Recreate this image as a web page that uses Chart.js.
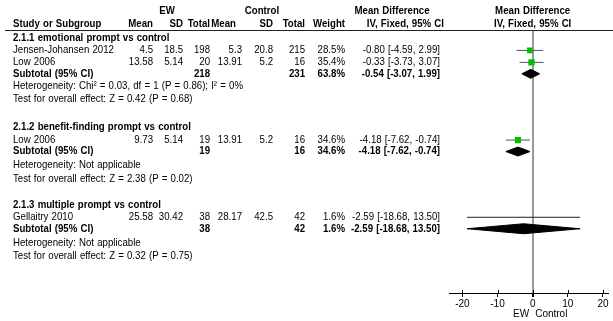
<!DOCTYPE html>
<html>
<head>
<meta charset="utf-8">
<script src="https://cdn.jsdelivr.net/npm/chart.js@4/dist/chart.umd.min.js"></script>
<style>
  html, body { margin: 0; padding: 0; background: #fff; }
  #wrap { width: 613px; height: 321px; position: relative; }
</style>
</head>
<body>
<div id="wrap"><canvas id="forest" width="613" height="321"></canvas></div>
<script>
// ---- Study-level data ----
const studyNames  = ['Jensen-Johansen 2012', 'Low 2006', 'Low 2006', 'Gellaitry 2010'];
const studyGroup  = [0, 0, 1, 2];
const ewMean      = [4.5, 13.58, 9.73, 25.58];
const ewSD        = [18.5, 5.14, 5.14, 30.42];
const ewTotal     = [198, 20, 19, 38];
const ctlMean     = [5.3, 13.91, 13.91, 28.17];
const ctlSD       = [20.8, 5.2, 5.2, 42.5];
const ctlTotal    = [215, 16, 16, 42];
const studyWeight = [28.5, 35.4, 34.6, 1.6];
const studyMD     = [-0.80, -0.33, -4.18, -2.59];
const studyLo     = [-4.59, -3.73, -7.62, -18.68];
const studyHi     = [2.99, 3.07, -0.74, 13.50];

// ---- Subgroup-level data ----
const groupTitles   = ['2.1.1 emotional prompt vs control',
                       '2.1.2 benefit-finding prompt vs control',
                       '2.1.3 multiple prompt vs control'];
const groupEwTotal  = [218, 19, 38];
const groupCtlTotal = [231, 16, 42];
const groupWeight   = [63.8, 34.6, 1.6];
const groupMD       = [-0.54, -4.18, -2.59];
const groupLo       = [-3.07, -7.62, -18.68];
const groupHi       = [1.99, -0.74, 13.50];
const groupHetero   = ['Heterogeneity: Chi\u00B2 = 0.03, df = 1 (P = 0.86); I\u00B2 = 0%',
                       'Heterogeneity: Not applicable',
                       'Heterogeneity: Not applicable'];
const groupEffect   = ['Test for overall effect: Z = 0.42 (P = 0.68)',
                       'Test for overall effect: Z = 2.38 (P = 0.02)',
                       'Test for overall effect: Z = 0.32 (P = 0.75)'];

// ---- Axis ----
const axisTicks  = [-20, -10, 0, 10, 20];
const axisLabels = ['EW', 'Control'];

// ---- Row layout (vertical scale runs in pixel units, top to bottom) ----
const rowHeader1  = 11.5;
const rowHeader2  = 24.5;
const rowRule     = 30;
const rowAxis     = 294;
const rowGroup    = [38.5, 127, 206];
const rowStudy    = [50.5, 62.5, 140.5, 218];
const rowSubtotal = [74, 152, 229.5];
const rowHetero   = [86.5, 166, 243.5];
const rowEffect   = [99, 180, 257];

// ---- Column layout ----
const colName = 13;
const colEwMean = 153, colEwSD = 183, colEwTotal = 210;
const colCtlMean = 242, colCtlSD = 273, colCtlTotal = 305;
const colWeight = 345, colCI = 440;

const FONT = '"Liberation Sans", Arial, sans-serif';
const TEXT_SIZE = 10.5;
const TEXT_SQUEEZE = 0.92;
const fmt2 = v => v.toFixed(2);
const ciText = (m, l, h) => `${fmt2(m)} [${fmt2(l)}, ${fmt2(h)}]`;
const squareRadius = w => Math.max(Math.sqrt(w) * 1.05 / Math.SQRT2, 0.8);

const datasets = [];

// study point estimates (green squares, sized by weight)
datasets.push({
  label: 'estimates',
  order: 0,
  data: studyMD.map((m, i) => ({ x: m, y: rowStudy[i] })),
  pointStyle: 'rect',
  pointRadius: studyWeight.map(squareRadius),
  backgroundColor: '#00c000',
  borderWidth: 0,
  showLine: false
});

// confidence-interval whiskers
studyMD.forEach((m, i) => {
  datasets.push({
    label: 'ci' + i,
    order: 2,
    data: [{ x: studyLo[i], y: rowStudy[i] }, { x: studyHi[i], y: rowStudy[i] }],
    showLine: true,
    borderColor: studyWeight[i] < 5 ? '#222' : '#555',
    borderWidth: 1,
    pointRadius: 0
  });
});

// subtotal diamonds
groupMD.forEach((m, g) => {
  const y = rowSubtotal[g], h = g === 2 ? 5 : 4.5;
  datasets.push({
    label: 'diamond' + g,
    order: 1,
    data: [
      { x: groupLo[g], y: y },
      { x: m, y: y - h },
      { x: groupHi[g], y: y },
      { x: m, y: y + h },
      { x: groupLo[g], y: y }
    ],
    showLine: true,
    fill: 'shape',
    backgroundColor: '#000',
    borderColor: '#000',
    borderWidth: 1,
    pointRadius: 0,
    tension: 0
  });
});

// table text, header rule and axis captions
const tablePlugin = {
  id: 'forestTable',
  afterDraw(chart) {
    const ctx = chart.ctx;
    const xs = chart.scales.x, ys = chart.scales.y;
    const Y = v => ys.getPixelForValue(v);
    const zeroX = xs.getPixelForValue(0);
    const axisY = chart.chartArea.bottom;
    const put = (txt, x, y, align, bold) => {
      ctx.save();
      ctx.font = (bold ? 'bold ' : '') + TEXT_SIZE + 'px ' + FONT;
      ctx.textAlign = align;
      ctx.textBaseline = 'middle';
      if ('wordSpacing' in ctx) ctx.wordSpacing = '0.5px';
      ctx.translate(x, Y(y));
      ctx.scale(TEXT_SQUEEZE, 1);
      ctx.fillText(txt, 0, 0);
      ctx.restore();
    };
    ctx.save();
    ctx.fillStyle = '#000';

    // column headings
    put('EW', 167, rowHeader1, 'center', true);
    put('Control', 262, rowHeader1, 'center', true);
    put('Mean Difference', 392, rowHeader1, 'center', true);
    put('Mean Difference', zeroX, rowHeader1, 'center', true);
    put('Study or Subgroup', colName, rowHeader2, 'left', true);
    put('Mean', colEwMean, rowHeader2, 'right', true);
    put('SD', colEwSD, rowHeader2, 'right', true);
    put('Total', colEwTotal, rowHeader2, 'right', true);
    put('Mean', 236, rowHeader2, 'right', true);
    put('SD', colCtlSD, rowHeader2, 'right', true);
    put('Total', colCtlTotal, rowHeader2, 'right', true);
    put('Weight', colWeight, rowHeader2, 'right', true);
    put('IV, Fixed, 95% CI', colCI + 4, rowHeader2, 'right', true);
    put('IV, Fixed, 95% CI', zeroX, rowHeader2, 'center', true);

    // rule under the headings
    ctx.strokeStyle = '#222';
    ctx.lineWidth = 1;
    ctx.beginPath();
    ctx.moveTo(5, Math.round(Y(rowRule)) + 0.5);
    ctx.lineTo(613, Math.round(Y(rowRule)) + 0.5);
    ctx.stroke();

    // subgroups
    groupTitles.forEach((t, g) => {
      put(t, colName, rowGroup[g], 'left', true);
      put('Subtotal (95% CI)', colName, rowSubtotal[g], 'left', true);
      put(String(groupEwTotal[g]), colEwTotal, rowSubtotal[g], 'right', true);
      put(String(groupCtlTotal[g]), colCtlTotal, rowSubtotal[g], 'right', true);
      put(groupWeight[g].toFixed(1) + '%', colWeight, rowSubtotal[g], 'right', true);
      put(ciText(groupMD[g], groupLo[g], groupHi[g]), colCI, rowSubtotal[g], 'right', true);
      put(groupHetero[g], colName, rowHetero[g], 'left', false);
      put(groupEffect[g], colName, rowEffect[g], 'left', false);
    });

    // studies
    studyNames.forEach((n, i) => {
      const y = rowStudy[i];
      put(n, colName, y, 'left', false);
      put(String(ewMean[i]), colEwMean, y, 'right', false);
      put(String(ewSD[i]), colEwSD, y, 'right', false);
      put(String(ewTotal[i]), colEwTotal, y, 'right', false);
      put(String(ctlMean[i]), colCtlMean, y, 'right', false);
      put(String(ctlSD[i]), colCtlSD, y, 'right', false);
      put(String(ctlTotal[i]), colCtlTotal, y, 'right', false);
      put(studyWeight[i].toFixed(1) + '%', colWeight, y, 'right', false);
      put(ciText(studyMD[i], studyLo[i], studyHi[i]), colCI, y, 'right', false);
    });

    // short upward tick marks so each tick crosses the axis line
    ctx.strokeStyle = '#000';
    ctx.lineWidth = 1;
    xs.ticks.forEach(t => {
      const px = Math.round(xs.getPixelForValue(t.value)) + 0.5;
      ctx.beginPath();
      ctx.moveTo(px, axisY - 3);
      ctx.lineTo(px, axisY);
      ctx.stroke();
    });

    // favours captions under the axis
    ctx.font = '10px ' + FONT;
    ctx.textBaseline = 'middle';
    ctx.textAlign = 'right';
    ctx.fillText(axisLabels[0], zeroX - 3.5, 314);
    ctx.textAlign = 'left';
    ctx.fillText(axisLabels[1], zeroX + 2.5, 314);
    ctx.restore();
  }
};

new Chart(document.getElementById('forest'), {
  type: 'scatter',
  data: { datasets },
  options: {
    responsive: false,
    devicePixelRatio: 1,
    animation: false,
    layout: { padding: { left: 449, right: 1, top: rowRule, bottom: 10 } },
    plugins: { legend: { display: false }, tooltip: { enabled: false } },
    scales: {
      x: {
        type: 'linear',
        min: -23.8,
        max: 21.6,
        afterBuildTicks: s => { s.ticks = axisTicks.map(v => ({ value: v })); },
        border: { display: true, color: '#000', width: 1 },
        grid: {
          display: true,
          drawOnChartArea: true,
          drawTicks: true,
          tickLength: 4,
          tickColor: '#000',
          color: c => (c.tick && c.tick.value === 0) ? '#999' : 'rgba(0,0,0,0)',
          lineWidth: c => (c.tick && c.tick.value === 0) ? 2 : 1
        },
        ticks: {
          color: '#000',
          padding: 1,
          maxRotation: 0,
          font: { size: 10, family: FONT },
          callback: v => String(v)
        }
      },
      y: {
        type: 'linear',
        display: false,
        reverse: true,
        min: rowRule,
        max: rowAxis
      }
    }
  },
  plugins: [tablePlugin]
});
</script>
</body>
</html>
